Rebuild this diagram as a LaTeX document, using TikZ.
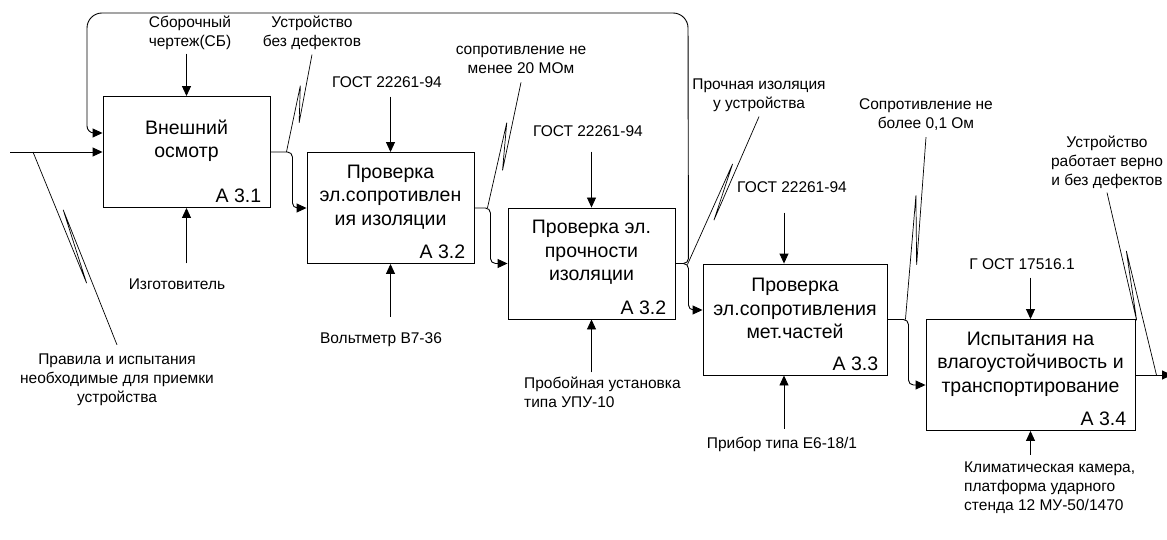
\documentclass[tikz,border=0pt]{standalone}
\usepackage{fontspec}
\setmainfont{Liberation Sans}
\usetikzlibrary{calc, positioning}
\usetikzlibrary{arrows.meta}

\tikzset{
  box/.style={draw, line width=0.9pt, inner sep=0pt, minimum width=167pt, minimum height=111pt},
  ttl/.style={font=\fontsize{19.5}{23.5}\selectfont, align=center, inner sep=0pt, yshift=11pt},
  num/.style={font=\fontsize{19.5}{23.5}\selectfont, inner sep=0pt, anchor=south east, xshift=-9pt, yshift=5pt},
  lbl/.style={font=\fontsize{15.5}{19}\selectfont, align=center, inner sep=0pt},
  arr/.style={-{Triangle[length=10pt,width=9pt]}, line width=0.9pt},
  conn/.style={arr, rounded corners=5pt},
  lead/.style={line width=0.7pt},
}
% leader line with the squiggle
\newcommand{\squig}[2]{%
  \draw[lead] (#1) -- ($(#1)!0.70!(#2) - (#1)!5pt!(#1 -| #2) + (#1)$)
    -- ($(#1)!0.32!(#2) + (#1)!3.5pt!(#1 -| #2) - (#1)$) -- (#2);}

\begin{document}
\begin{tikzpicture}[x=1pt, y=-1pt]
\useasboundingbox (0,0) rectangle (1167,540);

% activity boxes
\node[box] (b1) at (186.5,152) {};
\node[box] (b2) at (390.5,208) {};
\node[box] (b3) at (591.5,263.5) {};
\node[box, minimum width=184pt] (b4) at (795,319.5) {};
\node[box, minimum width=209pt] (b5) at (1030.5,375) {};

\node[ttl] (t1) at (b1) {Внешний\\осмотр};
\node[ttl] (t2) at (b2) {Проверка\\эл.сопротивлен\\ия изоляции};
\node[ttl] (t3) at (b3) {Проверка эл.\\прочности\\изоляции};
\node[ttl] (t4) at (b4) {Проверка\\эл.сопротивления\\мет.частей};
\node[ttl] (t5) at (b5) {Испытания на\\влагоустойчивость и\\транспортирование};

\node[num] (n1) at (b1.south east) {A 3.1};
\node[num] (n2) at (b2.south east) {A 3.2};
\node[num] (n3) at (b3.south east) {A 3.2};
\node[num] (n4) at (b4.south east) {A 3.3};
\node[num] (n5) at (b5.south east) {A 3.4};

% input and feedback
\coordinate (in0) at (10,152);
\coordinate (fb) at ($(b1.west)+(0,-19)$);
\coordinate (b4in) at ($(b4.west)+(0,-9.5)$);
\coordinate (b5in) at ($(b5.west)+(0,10)$);
\coordinate (out5) at (1172,375);
\draw[arr] (in0) -- (b1.west);
\draw[conn] (b3.east) -- ++(13,0) [rounded corners=15pt] -- (688,13) -- (87,13)
  [rounded corners=7pt] -- (87,133) -- (fb);

% flow between boxes
\draw[conn] (b1.east) -- ++(22,0) |- (b2.west);
\draw[conn] (b2.east) -- ++(16,0) |- (b3.west);
\draw[conn] (b3.east) -- ++(13,0) |- (b4in);
\draw[conn] (b4.east) -- ++(21,0) |- (b5in);
\draw[arr] (b5.east) -- (out5);

% controls
\coordinate (b4top) at ($(b4.north)+(-11,0)$);
\coordinate (b4bot) at ($(b4.south)+(-11,0)$);
\node[lbl] (c1) at (190,32.5) {Сборочный\\чертеж(СБ)};
\node[lbl] (c2) at (387,82) {ГОСТ 22261-94};
\node[lbl] (c3) at (588,131) {ГОСТ 22261-94};
\node[lbl] (c4) at (792,187) {ГОСТ 22261-94};
\node[lbl] (c5) at (1022,264) {Г ОСТ 17516.1};
\draw[arr, shorten <=4pt] (c1.south -| b1.north) -- (b1.north);
\draw[arr, shorten <=9pt] (c2.south -| b2.north) -- (b2.north);
\draw[arr, shorten <=15pt] (c3.south -| b3.north) -- (b3.north);
\draw[arr, shorten <=20pt] (c4.south -| b4top) -- (b4top);
\draw[arr, shorten <=8pt] (c5.south -| b5.north) -- (b5.north);

% mechanisms
\node[lbl] (m1) at (177,284) {Изготовитель};
\node[lbl] (m2) at (381,340) {Вольтметр В7-36};
\node[lbl, align=left, anchor=west] (m3) at (524,392) {Пробойная установка\\типа УПУ-10};
\node[lbl] (m4) at (782,444) {Прибор типа Е6-18/1};
\node[lbl, align=left, anchor=west] (m5) at (964,488) {Климатическая камера,\\платформа ударного\\стенда 12 МУ-50/1470};
\draw[arr, shorten <=15pt] (m1.north -| b1.south) -- (b1.south);
\draw[arr, shorten <=16pt] (m2.north -| b2.south) -- (b2.south);
\draw[arr, shorten <=4pt] (m3.north -| b3.south) -- (b3.south);
\draw[arr, shorten <=8pt] (m4.north -| b4bot) -- (b4bot);
\draw[arr, shorten <=7pt] (m5.north -| b5.south) -- (b5.south);

% outputs and their leaders
\node[lbl] (o1) at (312,32.5) {Устройство\\без дефектов};
\node[lbl] (o2) at (521,59.5) {сопротивление не\\менее 20 МОм};
\node[lbl] (o3) at (759,95) {Прочная изоляция\\у устройства};
\node[lbl] (o4) at (926,115) {Сопротивление не\\более 0,1 Ом};
\node[lbl] (o5) at (1107,162) {Устройство\\работает верно\\и без дефектов};
\node[lbl] (i1) at (117,380) {Правила и испытания\\необходимые для приемки\\устройства};

\coordinate[below=5pt of o1] (o1s);
\coordinate[below=9pt of o2] (o2s);
\coordinate[below=5pt of o3] (o3s);
\coordinate[below=6pt of o4] (o4s);
\coordinate[below=4pt of o5] (o5s);
\coordinate[above=9pt of i1] (i1s);
\coordinate (o1e) at ($(b1.east)+(16,0)$);
\coordinate (o2e) at ($(b2.east)+(13,0)$);
\coordinate (o3e) at ($(b3.east)+(12,1)$);
\coordinate (o4e) at ($(b4.east)+(18,0)$);
\coordinate (o5e) at ($(b5.east)+(21,0)$);
\coordinate (i1e) at ($(in0)+(23,0)$);
\squig{o1s}{o1e}
\squig{o2s}{o2e}
\squig{o3s}{o3e}
\squig{o4s}{o4e}
\squig{o5s}{o5e}
\squig{i1s}{i1e}
\end{tikzpicture}
\end{document}
